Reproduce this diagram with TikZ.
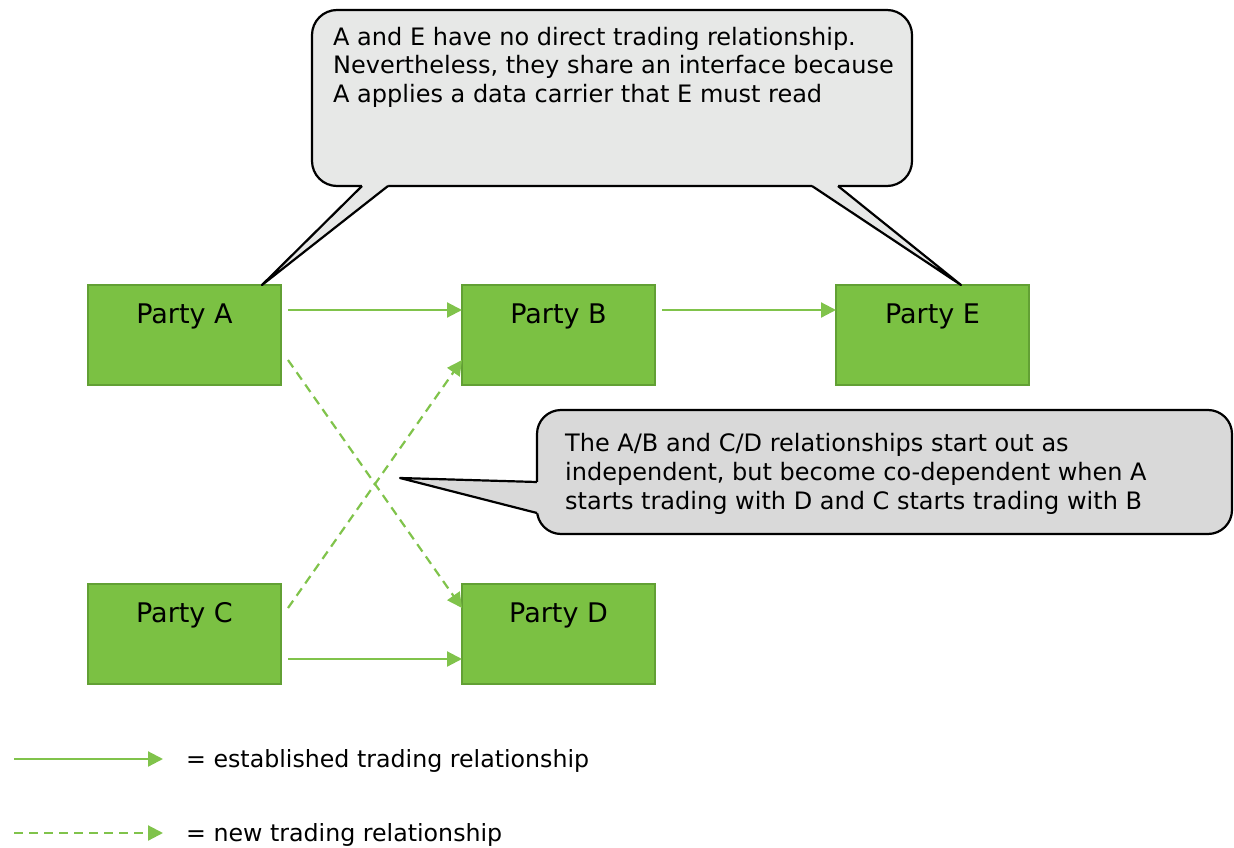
\documentclass[tikz,border=0pt]{standalone}
\usepackage{fontspec}
\setmainfont{DejaVu Sans}
\usetikzlibrary{arrows.meta,calc}
\definecolor{partyfill}{RGB}{123,193,67}
\definecolor{partyedge}{RGB}{98,160,52}
\definecolor{linkgreen}{RGB}{128,195,75}
\definecolor{noteA}{RGB}{231,232,231}
\definecolor{noteB}{RGB}{217,217,217}

\begin{document}
\begin{tikzpicture}[x=1pt,y=-1pt,
  party/.style={draw=partyedge,fill=partyfill,line width=1.5pt,
    minimum width=193pt,minimum height=100pt,inner sep=0pt,outer sep=0pt},
  partyname/.style={font=\fontsize{27}{31}\selectfont,inner sep=0pt,anchor=base},
  link/.style={draw=linkgreen,line width=2.2pt,-{Triangle[length=15pt,width=15pt]}},
  newlink/.style={link,dash pattern=on 9pt off 6pt},
  notetext/.style={inner sep=0pt,align=left,anchor=north west},
  bubbleline/.style={draw=black,line width=2.2pt,line join=round},
  legendtext/.style={font=\fontsize{23.7}{29}\selectfont,inner sep=0pt,anchor=base west}]

\useasboundingbox (0,0) rectangle (1234,848);

% trading parties
\node[party] (A) at (184.5,335) {};
\node[party] (B) at (558.5,335) {};
\node[party] (E) at (932.5,335) {};
\node[party] (C) at (184.5,634) {};
\node[party] (D) at (558.5,634) {};
\node[partyname] (An) at (184.5,323) {Party A};
\node[partyname] (Bn) at (558.5,323) {Party B};
\node[partyname] (En) at (932.5,323) {Party E};
\node[partyname] (Cn) at (184.5,622) {Party C};
\node[partyname] (Dn) at (558.5,622) {Party D};

% established relationships
\draw[link] ($(A.north east)+(7,25)$) -- ($(B.north west)+(0,25)$);
\draw[link] ($(B.north east)+(7,25)$) -- ($(E.north west)+(0,25)$);
\draw[link] ($(C.north east)+(7,75)$) -- ($(D.north west)+(0,75)$);

% new relationships
\draw[newlink] ($(A.north east)+(7,75)$) -- ($(D.north west)+(0,24)$);
\draw[newlink] ($(C.north east)+(7,24)$) -- ($(B.north west)+(0,75)$);

% note about A and E
\coordinate (tipA) at (262,285);
\coordinate (tipE) at (961,285);
\draw[bubbleline,fill=noteA,rounded corners=25pt] (312,10) rectangle (912,186);
\fill[noteA] (362,180) -- (362,186) -- (tipA) -- (388,186) -- (388,180) -- cycle;
\fill[noteA] (812,180) -- (812,186) -- (tipE) -- (838,186) -- (838,180) -- cycle;
\draw[bubbleline] (362,186) -- (tipA) -- (388,186);
\draw[bubbleline] (812,186) -- (tipE) -- (838,186);
\node[notetext,font=\fontsize{24}{28.5}\selectfont] (noteAE) at (333,27)
  {A and E have no direct trading relationship.\\
   Nevertheless, they share an interface because\\
   A applies a data carrier that E must read};

% note about the crossing relationships
\coordinate (tipX) at (400,478);
\draw[bubbleline,fill=noteB,rounded corners=24pt] (537,410) rectangle (1232,534);
\fill[noteB] (543,482) -- (537,482) -- (tipX) -- (537,513) -- (543,513) -- cycle;
\draw[bubbleline] (537,482) -- (tipX) -- (537,513);
\node[notetext,font=\fontsize{24}{29}\selectfont] (noteX) at (565,433)
  {The A/B and C/D relationships start out as\\
   independent, but become co-dependent when A\\
   starts trading with D and C starts trading with B};

% legend
\coordinate (l1s) at (14,759);
\coordinate (l1e) at (163,759);
\coordinate (l2s) at (14,833);
\coordinate (l2e) at (163,833);
\draw[link] (l1s) -- (l1e);
\draw[newlink] (l2s) -- (l2e);
\node[legendtext] (leg1) at (186,767) {= established trading relationship};
\node[legendtext] (leg2) at (186,841) {= new trading relationship};
\end{tikzpicture}
\end{document}
